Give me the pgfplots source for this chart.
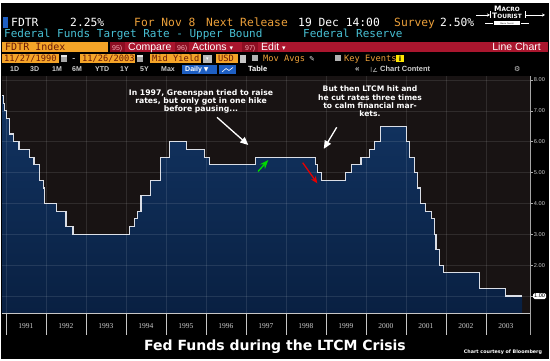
\documentclass[border=0pt]{standalone}
\usepackage{pgfplots}
\pgfplotsset{compat=1.18}
\usepackage{pgfplotstable}
\usepackage{fontspec}
\setmainfont{DejaVu Sans}
\newfontfamily\mono{DejaVu Sans Mono}
\newfontfamily\arial{Liberation Sans}
\newfontfamily\tnr{Liberation Serif}
\newfontfamily\djv{DejaVu Sans}
\usetikzlibrary{arrows.meta}
\newcommand{\fs}[1]{\fontsize{#1}{#1}\selectfont}

\definecolor{bbOrange}{RGB}{236,160,58}
\definecolor{bbBox}{RGB}{244,164,40}
\definecolor{bbCyan}{RGB}{72,192,212}
\definecolor{bbRed}{RGB}{170,22,46}
\definecolor{bbRedDark}{RGB}{140,14,34}
\definecolor{bbPink}{RGB}{245,170,180}
\definecolor{bbBlue}{RGB}{30,95,195}
\definecolor{boxText}{RGB}{105,25,8}
\definecolor{plotbg}{RGB}{24,19,19}
\definecolor{fillTop}{RGB}{18,52,98}
\definecolor{fillBot}{RGB}{9,32,66}
\definecolor{lineCol}{RGB}{218,222,230}
\definecolor{tickgrey}{RGB}{175,175,175}
\definecolor{rowgrey}{RGB}{205,205,205}

\pgfplotstableread{
x y
1990.905 7.50
1990.932 7.25
1990.962 7.00
1991.022 6.75
1991.085 6.25
1991.181 6.00
1991.326 5.75
1991.595 5.50
1991.699 5.25
1991.830 5.00
1991.847 4.75
1991.929 4.50
1991.967 4.00
1992.268 3.75
1992.500 3.25
1992.675 3.00
1994.093 3.25
1994.221 3.50
1994.296 3.75
1994.375 4.25
1994.622 4.75
1994.871 5.50
1995.085 6.00
1995.510 5.75
1995.966 5.50
1996.082 5.25
1997.230 5.50
1998.745 5.25
1998.789 5.00
1998.879 4.75
1999.493 5.00
1999.644 5.25
1999.874 5.50
2000.088 5.75
2000.219 6.00
2000.372 6.50
2001.005 6.00
2001.082 5.50
2001.214 5.00
2001.293 4.50
2001.367 4.00
2001.485 3.75
2001.636 3.50
2001.710 3.00
2001.751 2.50
2001.847 2.00
2001.942 1.75
2002.847 1.25
2003.482 1.00
2003.904 1.00
}\fedtable

\begin{document}
\begin{tikzpicture}[x=1pt,y=1pt]
% backgrounds
\fill[white] (0,0) rectangle (550,361);
\fill[black] (1,2) rectangle (549,358);

% ---- row 1
\fill[bbBlue] (3,344) rectangle (8,333);
\begin{scope}[every node/.style={anchor=base west, inner sep=0pt, font=\fs{11.3}\mono}]
\node[text=white] at (11,334) {FDTR};
\node[text=white] at (70,334) {2.25\%};
\node[text=bbOrange] at (134,334) {For Nov 8};
\node[text=bbOrange] at (206,334) {Next Release};
\node[text=white] at (298,334) {19 Dec 14:00};
\node[text=bbOrange] at (394,334) {Survey};
\node[text=white] at (440,334) {2.50\%};
\end{scope}
% logo
\begin{scope}[white]
\node[anchor=base, inner sep=0pt, font=\fs{7.5}\bfseries] at (507,349) {M\fs{5.8}ACRO};
\node[anchor=base, inner sep=0pt, font=\fs{7.5}\bfseries] at (507,342) {T\fs{5.8}OURIST};
\fill (494,339.5) rectangle (520,335.5);
\node[inner sep=0pt, font=\fs{2}, text=black] at (507,337.5) {Macro Tourist};
\draw[line width=0.8pt, -{Stealth[length=3pt,width=3pt]}] (476,346) -- (490,346);
\draw[line width=0.8pt] (490,349.5) -- (490,342.5);
\draw[line width=0.8pt] (525,349.5) -- (525,342.5);
\draw[line width=0.8pt, -{Stealth[length=3pt,width=3pt]}] (525,346) -- (545,346);
\draw[line width=0.6pt] (485,337.5) -- (493,337.5);
\draw[line width=0.6pt] (521,337.5) -- (529,337.5);
\end{scope}

% ---- row 2
\begin{scope}[every node/.style={anchor=base west, inner sep=0pt, font=\fs{11}\mono, text=bbCyan}]
\node at (4,323) {Federal Funds Target Rate - Upper Bound};
\node at (303,323) {Federal Reserve};
\end{scope}

% ---- row 3
\fill[bbBox] (2,308.5) rectangle (108,319);
\node[anchor=base west, inner sep=0pt, font=\fs{10}\mono, text=boxText] at (5,310.5) {FDTR Index};
\fill[bbRed] (110,308.5) rectangle (548,319);
\fill[bbRedDark] (110,308.5) rectangle (125,319);
\fill[bbRedDark] (175,308.5) rectangle (189,319);
\fill[bbRedDark] (242,308.5) rectangle (258,319);
\begin{scope}[every node/.style={anchor=base west, inner sep=0pt}]
\node[text=bbPink, font=\fs{7}\arial] at (112,310.5) {95)};
\node[text=white, font=\fs{10.5}\arial] at (128,310.5) {Compare};
\node[text=bbPink, font=\fs{7}\arial] at (177,310.5) {96)};
\node[text=white, font=\fs{10.5}\arial] at (192,310.5) {Actions {\djv\fs{7}▾}};
\node[text=bbPink, font=\fs{7}\arial] at (245,310.5) {97)};
\node[text=white, font=\fs{10.5}\arial] at (261,310.5) {Edit {\djv\fs{7}▾}};
\node[text=white, font=\fs{10.5}\arial, anchor=base east] at (541,310.5) {Line Chart};
\end{scope}

% ---- row 4
\fill[bbBox] (2,297.7) rectangle (59,306.7);
\fill[bbBox] (80,297.7) rectangle (135,306.7);
\fill[bbBox] (150,297.7) rectangle (201,306.7);
\fill[bbBox] (216,297.7) rectangle (238,306.7);
\begin{scope}[every node/.style={anchor=base west, inner sep=0pt, font=\fs{8.7}\mono, text=boxText}]
\node at (4,299.5) {11/27/1990};
\node at (82,299.5) {11/26/2003};
\node at (152,299.5) {Mid Yield};
\node at (218,299.5) {USD};
\end{scope}
\fill[gray!70] (61,299) rectangle (67,305.5);
\fill[white!80!gray] (61,304) rectangle (67,305.5);
\fill[gray!70] (137,299) rectangle (143,305.5);
\fill[white!80!gray] (137,304) rectangle (143,305.5);
\node[anchor=base west, inner sep=0pt, text=white, font=\fs{9}\mono] at (71,299.5) {-};
\fill[gray!55] (203,298) rectangle (212,306.4);
\node[inner sep=0pt, text=white, font=\fs{5}\djv] at (207.5,302) {▾};
\fill[gray!45] (240,298) rectangle (246,306.4);
\fill[gray!60] (252,299.5) rectangle (258,305.5);
\node[anchor=base west, inner sep=0pt, text=bbOrange, font=\fs{8.7}\mono] at (263,299.5) {Mov Avgs};
\node[anchor=base west, inner sep=0pt, text=white!80!gray, font=\fs{7}\djv] at (309,299.5) {✎};
\fill[gray!60] (335,299.5) rectangle (341,305.5);
\node[anchor=base west, inner sep=0pt, text=bbOrange, font=\fs{8.7}\mono] at (344,299.5) {Key Events};
\fill[yellow!90!orange] (396,298.5) rectangle (404,306);
\node[inner sep=0pt, text=black, font=\fs{7}\bfseries] at (400,302.2) {i};

% ---- row 5
\begin{scope}[every node/.style={anchor=base west, inner sep=0pt, font=\fs{7}\arial\bfseries, text=rowgrey}]
\node at (10,289) {1D};
\node at (30,289) {3D};
\node at (52,289) {1M};
\node at (72,289) {6M};
\node at (95,289) {YTD};
\node at (120,289) {1Y};
\node at (140,289) {5Y};
\node at (161,289) {Max};
\end{scope}
\fill[bbBlue] (182,286.7) rectangle (217,296);
\node[anchor=base west, inner sep=0pt, font=\fs{7}\arial\bfseries, text=white] at (185,289) {Daily {\djv\fs{6}▼}};
\fill[bbBlue] (219,286.7) rectangle (236,296);
\draw[white, line width=0.6pt] (222,289) -- (226,292.5) -- (229,290.5) -- (233,293.5);
\node[anchor=base west, inner sep=0pt, font=\fs{7.5}\arial\bfseries, text=white] at (248,289) {Table};
\node[anchor=base west, inner sep=0pt, font=\fs{3}\arial, text=gray] at (232,280.5) {Track \enspace Annotate \enspace News \enspace Zoom};
\node[anchor=base west, inner sep=0pt, font=\fs{8}\arial\bfseries, text=rowgrey] at (355,289) {«};
\draw[rowgrey, line width=0.5pt] (371,289) -- (371,294) (373,289) -- (376,293) (374,289.5) -- (377,289.5);
\node[anchor=base west, inner sep=0pt, font=\fs{7.5}\arial\bfseries, text=rowgrey] at (380,289) {Chart Content};
\node[anchor=base west, inner sep=0pt, font=\fs{7}\djv, text=rowgrey] at (514,289) {⚙};

% ---- chart
\begin{axis}[
  at={(2pt,48pt)}, anchor=south west,
  width=528pt, height=237pt, scale only axis,
  xmin=1990.9, xmax=2004.1, ymin=0.45, ymax=8.13,
  axis background/.style={fill=plotbg},
  axis line style={draw=none},
  axis on top,
  xtick={1991.5,1992.5,1993.5,1994.5,1995.5,1996.5,1997.5,1998.5,1999.5,2000.5,2001.5,2002.5,2003.5},
  xticklabels={1991,1992,1993,1994,1995,1996,1997,1998,1999,2000,2001,2002,2003},
  xtick style={draw=none},
  x tick label style={font=\fs{7.5}\tnr, text=rowgrey, inner sep=0pt, yshift=-7pt},
  extra x ticks={1991,1992,1993,1994,1995,1996,1997,1998,1999,2000,2001,2002,2003},
  extra x tick labels={},
  extra x tick style={grid=major, tick style={draw=none}},
  ytick={2,3,4,5,6,7,8},
  ytick pos=right, yticklabel pos=right,
  tick align=outside, major tick length=3pt,
  ytick style={draw=tickgrey, line width=0.5pt},
  ymajorgrids,
  major grid style={draw=white, opacity=0.1, line width=0.5pt},
  yticklabel={\pgfmathprintnumber[fixed,fixed zerofill,precision=2,assume math mode=true]{\tick}},
  y tick label style={font=\fs{5.6}\arial, text=rowgrey, inner sep=0.8pt},
  extra y ticks={1},
  extra y tick style={grid=major, yticklabel style={fill=white, text=black, rounded corners=1.5pt, inner sep=1pt}},
]
\addplot[const plot, draw=none, top color=fillTop, bottom color=fillBot] table[x=x,y=y]{\fedtable} \closedcycle;
\addplot[const plot, draw=lineCol, line width=1.1pt] table[x=x,y=y]{\fedtable};
\end{axis}
% year separators (decoration below the axis)
\foreach \k in {0,...,12} {
  \draw[gray!45, line width=0.5pt] ({2+(\k+0.1)*40},48) -- ({2+(\k+0.1)*40},26);
}
% axis lines
\draw[gray!70, line width=0.6pt] (530,26) -- (530,285);
\draw[gray!45, line width=0.5pt] (2,48) -- (530,48);

% ---- annotations
\node[anchor=north, inner sep=0pt, align=center, text=white, font=\fontsize{7.7}{8.2}\selectfont\bfseries] at (201,271.8)
  {In 1997, Greenspan tried to raise\\rates, but only got in one hike\\before pausing...};
\node[anchor=north, inner sep=0pt, align=center, text=white, font=\fontsize{7.6}{8.2}\selectfont\bfseries] at (370,275)
  {But then LTCM hit and\\he cut rates three times\\to calm financial mar-\\kets.};
\draw[white, line width=1.3pt, -{Triangle[length=8pt,width=7pt]}] (217,243.7) -- (248.3,216);
\draw[white, line width=1.3pt, -{Triangle[length=8pt,width=7pt]}] (336.7,233.7) -- (323.8,212.2);
\draw[green!85!black, line width=1.3pt, -{Stealth[length=9pt,width=7pt]}] (258,189.5) -- (268.3,201);
\draw[red!90!black, line width=1.3pt, -{Stealth[length=7pt,width=6pt]}] (302.7,198.3) -- (317.3,177.7);

% ---- title
\node[anchor=base, inner sep=0pt, text=white, font=\fs{14}\bfseries] at (275,10.3) {Fed Funds during the LTCM Crisis};
\node[anchor=base, inner sep=0pt, text=white, font=\fs{4.8}\bfseries] at (503,7) {Chart courtesy of Bloomberg};
\end{tikzpicture}
\end{document}
